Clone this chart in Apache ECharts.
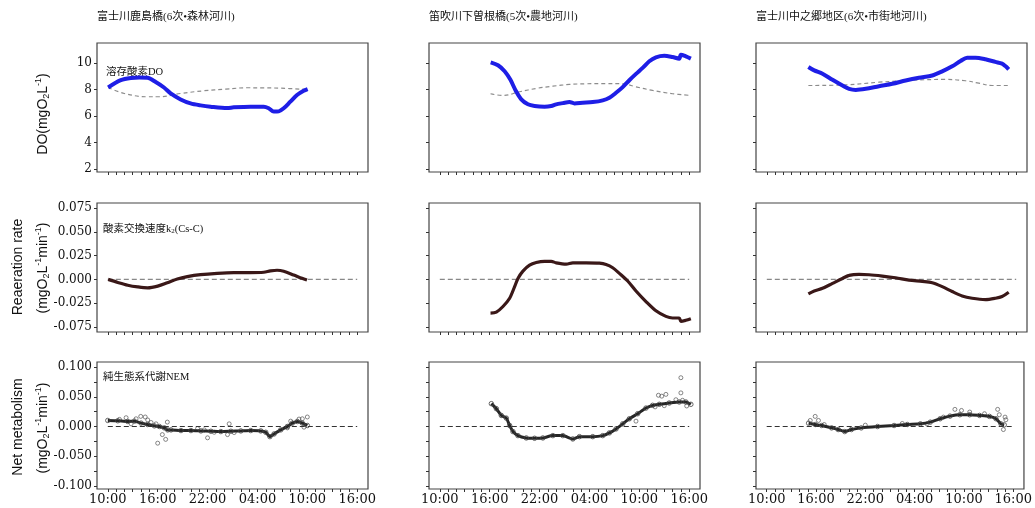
<!DOCTYPE html>
<html><head><meta charset="utf-8">
<script src="https://cdn.jsdelivr.net/npm/echarts@6/dist/echarts.min.js"></script>
<style>html,body{margin:0;padding:0;background:#fff}#c{width:1035px;height:508px}</style>
</head><body><div id="c"></div>
<script>
// x values are hours after 10:00 of the first day
const hourTicks = [0,1,2,3,4,5,6,7,8,9,10,11,12,13,14,15,16,17,18,19,20,21,22,23,24,25,26,27,28,29,30];
const hourLabelValues = [0,6,12,18,24,30];
const hourLabels = ['10:00','16:00','22:00','04:00','10:00','16:00'];

const doTicks = [2,4,6,8,10];
const doLabels = ['2','4','6','8','10'];
const k2Ticks = [-0.05,-0.025,0,0.025,0.05,0.075];
const k2Labels = ['-0.075','-0.025','0.000','0.025','0.050','0.075'];
const nemTicks = [-0.1,-0.075,-0.05,-0.025,0,0.025,0.05,0.075,0.1];
const nemLabelValues = [-0.1,-0.05,0,0.05,0.1];
const nemLabels = ['-0.100','-0.050','0.000','0.050','0.100'];

const sites = ['富士川鹿島橋(6次•森林河川)','笛吹川下曽根橋(5次•農地河川)','富士川中之郷地区(6次•市街地河川)'];

// Row 1: dissolved oxygen (observed) and saturation (dashed)
const doObs1 = [[0.04,8.15],[1.56,8.7],[2.76,8.87],[3.8,8.9],[4.76,8.88],[5.76,8.57],[6.76,8.15],[7.56,7.7],[8.76,7.25],[9.96,6.95],[11.16,6.8],[12.36,6.7],[14.36,6.6],[15.16,6.65],[17.16,6.7],[18.76,6.7],[19.36,6.58],[19.96,6.33],[20.56,6.35],[21.16,6.58],[21.96,7.08],[22.76,7.58],[23.56,7.9],[24.04,8.03]];
const doSat1 = [[0.04,8.15],[2.0,7.7],[4.8,7.45],[6.1,7.45],[8.8,7.7],[11.5,7.9],[14.2,8.03],[16.8,8.13],[18.8,8.12],[20.8,8.1],[24.04,8.0]];
const doObs2 = [[6.12,10.05],[7.0,9.83],[7.8,9.38],[8.48,8.75],[9.12,7.93],[9.8,7.25],[10.6,6.88],[11.4,6.75],[12.6,6.7],[13.4,6.75],[14.0,6.88],[14.8,6.97],[15.6,7.05],[16.2,6.95],[17.2,7.0],[18.4,7.05],[19.6,7.18],[20.4,7.38],[21.2,7.75],[22.0,8.18],[22.8,8.7],[23.6,9.18],[24.4,9.63],[25.2,10.13],[26.0,10.43],[27.0,10.55],[28.0,10.45],[28.8,10.33],[29.0,10.63],[29.6,10.5],[30.2,10.33]];
const doSat2 = [[6.1,7.68],[7.6,7.55],[9.6,7.83],[11.6,8.08],[13.6,8.25],[15.6,8.38],[17.6,8.43],[20.0,8.45],[22.0,8.43],[23.6,8.2],[25.6,7.93],[28.0,7.68],[30.2,7.55]];
const doObs3 = [[5.0,9.7],[5.7,9.44],[6.7,9.19],[7.9,8.73],[9.1,8.3],[9.9,8.05],[10.7,7.97],[11.9,8.05],[13.5,8.25],[15.1,8.43],[16.7,8.68],[18.3,8.89],[19.9,9.06],[21.1,9.37],[22.3,9.75],[23.3,10.15],[24.1,10.4],[25.1,10.4],[26.3,10.28],[27.5,10.08],[28.3,9.95],[28.7,9.77],[29.1,9.52]];
const doSat3 = [[5.0,8.3],[9.5,8.35],[13.5,8.55],[17.5,8.7],[21.5,8.76],[23.9,8.66],[25.5,8.48],[27.1,8.3],[29.1,8.3]];

// Row 2: reaeration rate k2(Cs-C)
const k2Rate1 = [[0.04,0],[1.2,-0.0032],[2.4,-0.0061],[3.6,-0.0079],[4.8,-0.0089],[6.0,-0.0071],[7.16,-0.0036],[8.36,0.0004],[9.56,0.0029],[11.16,0.005],[13.16,0.0064],[15.16,0.0071],[17.16,0.0071],[18.76,0.0075],[19.56,0.0089],[20.36,0.0096],[21.16,0.0086],[22.36,0.0046],[23.36,0.0011],[23.96,-0.0007]];
const k2Rate2 = [[6.1,-0.0354],[6.8,-0.0344],[7.6,-0.0285],[8.4,-0.0198],[9.0,-0.0076],[9.4,0.001],[10.0,0.0087],[10.8,0.0149],[11.6,0.0177],[12.6,0.019],[13.4,0.019],[14.0,0.0174],[15.2,0.016],[16.0,0.0174],[17.6,0.0174],[19.2,0.017],[20.0,0.0156],[20.8,0.0122],[21.6,0.0063],[22.6,-0.0017],[23.6,-0.0122],[24.8,-0.0233],[26.0,-0.033],[27.2,-0.0389],[28.0,-0.0406],[28.8,-0.0406],[29.0,-0.0441],[29.6,-0.043],[30.2,-0.0413]];
const k2Rate3 = [[5.0,-0.0153],[5.7,-0.0122],[6.7,-0.0094],[7.9,-0.0042],[9.1,0.001],[9.9,0.0042],[11.1,0.0052],[12.3,0.0049],[13.9,0.0035],[15.5,0.0017],[17.1,-0.0007],[18.7,-0.0021],[19.9,-0.0035],[21.1,-0.0076],[22.3,-0.0128],[23.5,-0.0174],[24.7,-0.0198],[26.3,-0.0212],[27.5,-0.0198],[28.3,-0.018],[29.1,-0.0135]];
const zeroLine = [[0,0],[30,0]];

// Row 3: net ecosystem metabolism (main band + scattered points)
const nem1 = [[0,0.0102],[1.2,0.0097],[2.4,0.0085],[3.2,0.009],[4.0,0.0057],[4.8,0.0034],[5.6,0.0011],[6.2,0],[6.8,-0.0023],[7.2,-0.0057],[7.6,-0.0057],[8.8,-0.0068],[10.0,-0.0068],[11.2,-0.0074],[12.4,-0.008],[13.6,-0.0085],[14.8,-0.008],[16.0,-0.0074],[17.2,-0.0068],[18.4,-0.0074],[19.0,-0.0097],[19.5,-0.017],[20.0,-0.0125],[20.8,-0.0057],[21.6,0],[22.2,0.0057],[22.8,0.0085],[23.4,0.0057],[24.0,0.0017]];
const nemOut1 = [[1.4,0.012],[2.2,0.0148],[2.8,0.0045],[3.4,0.013],[3.96,0.017],[4.5,0.016],[4.8,0.011],[5.2,0.0068],[5.8,0.0045],[6.0,-0.028],[6.56,-0.0136],[6.96,-0.0216],[7.16,0.0074],[10.8,-0.0034],[11.6,-0.0057],[12.0,-0.019],[12.8,-0.0097],[14.6,0.0045],[14.4,-0.0136],[15.2,-0.0102],[21.6,-0.0023],[22.0,0.009],[23.0,0.0125],[23.4,0.013],[23.6,-0.0011],[24.0,0.016]];
const nem2 = [[6.2,0.0384],[6.8,0.030],[7.4,0.0186],[8.0,0.0141],[8.4,0.0017],[8.8,-0.0085],[9.4,-0.0153],[10.4,-0.0192],[11.4,-0.0198],[12.4,-0.0192],[13.6,-0.0153],[14.8,-0.0153],[16.0,-0.0209],[16.8,-0.017],[18.4,-0.017],[19.6,-0.0153],[20.4,-0.0107],[21.2,-0.004],[22.0,0.0045],[22.8,0.013],[23.8,0.0215],[24.8,0.031],[25.6,0.0356],[26.4,0.0373],[27.6,0.0395],[28.8,0.0412],[29.6,0.0412],[30.2,0.0373]];
const nemOut2 = [[26.3,0.0525],[26.7,0.051],[27.2,0.054],[29.0,0.082],[29.0,0.0565],[23.6,0.009],[29.2,0.044],[29.7,0.0345],[28.4,0.045],[27.0,0.035],[25.9,0.033]];
const nem3 = [[5.1,0.0056],[5.9,0.0034],[6.7,0.0017],[7.9,-0.0023],[8.7,-0.0051],[9.5,-0.0085],[10.3,-0.0051],[11.5,-0.0023],[13.5,0],[15.5,0.0017],[17.1,0.0034],[18.7,0.0045],[19.9,0.0073],[21.1,0.013],[22.3,0.0175],[23.5,0.0198],[24.7,0.0198],[25.9,0.0186],[27.1,0.017],[27.9,0.013],[28.5,0.0045],[28.9,0.0028]];
const nemOut3 = [[5.9,0.017],[5.3,0.0102],[6.3,0.0102],[22.9,0.0288],[23.7,0.027],[28.1,0.0288],[28.3,0.0198],[28.8,-0.0051],[29.0,0.0158],[29.1,0.0113],[21.5,0.0158],[24.7,0.0243],[7.0,0.0034],[12.0,0.0023],[16.5,0.0051],[19.5,0.0045],[26.5,0.0215]];

const doObs = [doObs1, doObs2, doObs3];
const doSat = [doSat1, doSat2, doSat3];
const k2Rate = [k2Rate1, k2Rate2, k2Rate3];
const nem = [nem1, nem2, nem3];
const nemOut = [nemOut1, nemOut2, nemOut3];

const colLeft = [97, 429, 756];
const rowTop = [43, 203, 362];
const rowHeight = [129, 129, 127];
const gridW = 271;
const yRange = [[1.77, 11.51], [-0.0553, 0.0803], [-0.105, 0.1084]];
const yTickSets = [doTicks, k2Ticks, nemTicks];
const yLabelVals = [doTicks, k2Ticks, nemLabelValues];
const yLabelTxt = [doLabels, k2Labels, nemLabels];

function lookup(vals, txt, v) {
  for (let i = 0; i < vals.length; i++) if (Math.abs(vals[i] - v) < 1e-9) return txt[i];
  return '';
}

const serif = 'DejaVu Serif';
const mixed = "'Liberation Serif','Noto Sans CJK JP'";
const grids = [], xAxes = [], yAxes = [], series = [];
for (let r = 0; r < 3; r++) {
  for (let c = 0; c < 3; c++) {
    const i = r * 3 + c;
    grids.push({left: colLeft[c], top: rowTop[r], width: gridW, height: rowHeight[r],
      show: true, borderColor: '#444', borderWidth: 1.2, backgroundColor: '#fff'});
    xAxes.push({type: 'value', gridIndex: i, min: -1.3, max: 31.3, position: 'bottom',
      axisLine: {show: false, onZero: false}, splitLine: {show: false},
      axisTick: {show: true, customValues: hourTicks, length: 3, inside: false, lineStyle: {color: '#333'}},
      axisLabel: {show: r === 2, customValues: hourLabelValues, margin: 4,
        formatter: v => lookup(hourLabelValues, hourLabels, v),
        fontFamily: serif, fontSize: 13, color: '#111'}});
    yAxes.push({type: 'value', gridIndex: i, min: yRange[r][0], max: yRange[r][1], position: 'left',
      axisLine: {show: false, onZero: false}, splitLine: {show: false},
      axisTick: {show: true, customValues: yTickSets[r], length: 3, inside: false, lineStyle: {color: '#333'}},
      axisLabel: {show: c === 0, customValues: yLabelVals[r], margin: 5,
        formatter: v => lookup(yLabelVals[r], yLabelTxt[r], v),
        fontFamily: serif, fontSize: 12, color: '#111'}});
    if (r === 0) {
      series.push({type: 'line', xAxisIndex: i, yAxisIndex: i, data: doSat[c], smooth: 0.4, showSymbol: false,
        lineStyle: {color: '#8c8c8c', width: 1.2, type: [4, 3]}, silent: true});
      series.push({type: 'line', xAxisIndex: i, yAxisIndex: i, data: doObs[c], smooth: 0.3, showSymbol: false,
        lineStyle: {color: '#1e1ee6', width: 4}, silent: true});
    } else if (r === 1) {
      series.push({type: 'line', xAxisIndex: i, yAxisIndex: i, data: zeroLine, showSymbol: false,
        lineStyle: {color: '#888', width: 1.2, type: [5, 3]}, silent: true});
      series.push({type: 'line', xAxisIndex: i, yAxisIndex: i, data: k2Rate[c], smooth: 0.3, showSymbol: false,
        lineStyle: {color: '#3a1818', width: 3.2}, silent: true});
    } else {
      series.push({type: 'line', xAxisIndex: i, yAxisIndex: i, data: zeroLine, showSymbol: false,
        lineStyle: {color: '#333', width: 1.2, type: [5, 3]}, silent: true});
      series.push({type: 'line', xAxisIndex: i, yAxisIndex: i, data: nem[c], smooth: 0.2,
        symbol: 'circle', symbolSize: 4.5, showSymbol: true,
        itemStyle: {color: 'rgba(0,0,0,0)', borderColor: '#444', borderWidth: 0.8},
        lineStyle: {color: '#262626', width: 3}, silent: true});
      series.push({type: 'scatter', xAxisIndex: i, yAxisIndex: i, data: nemOut[c],
        symbol: 'circle', symbolSize: 4,
        itemStyle: {color: 'rgba(0,0,0,0)', borderColor: '#444', borderWidth: 0.8}, silent: true});
    }
  }
}

const axisTitleStyle = {fontFamily: "'Liberation Sans', Arial, sans-serif", fontSize: 14, fill: '#111', align: 'center', verticalAlign: 'middle',
  rich: {
    sub: {fontFamily: "'Liberation Sans', Arial, sans-serif", fontSize: 9, fill: '#111', padding: [8, 0, 0, 0]},
    sup: {fontFamily: "'Liberation Sans', Arial, sans-serif", fontSize: 9, fill: '#111', padding: [0, 0, 8, 0]}
  }};
const unitText = '(mgO{sub|2}L{sup|-1}min{sup|-1})';
const graphics = [];
function vtext(x, y, text) {
  graphics.push({type: 'text', x: x, y: y, rotation: Math.PI / 2, style: Object.assign({}, axisTitleStyle, {text: text})});
}
vtext(43, 114, 'DO(mgO{sub|2}L{sup|-1})');
vtext(18, 267, 'Reaeration rate');
vtext(43, 268, unitText);
vtext(18, 427, 'Net metabolism');
vtext(43, 428, unitText);

for (let c = 0; c < 3; c++) {
  graphics.push({type: 'text', x: colLeft[c], y: 17, style: {text: sites[c], fontFamily: mixed, fontSize: 11, fill: '#111', align: 'left', verticalAlign: 'middle'}});
}
const annStyle = {fontFamily: mixed, fontSize: 10.5, fill: '#111', align: 'left', verticalAlign: 'middle'};
graphics.push({type: 'text', x: 106, y: 72, style: Object.assign({}, annStyle, {text: '溶存酸素DO'})});
graphics.push({type: 'text', x: 103, y: 229, style: Object.assign({}, annStyle, {text: '酸素交換速度k{s|2}(Cs-C)',
  rich: {s: {fontFamily: mixed, fontSize: 7, fill: '#111', padding: [5, 0, 0, 0]}}})});
graphics.push({type: 'text', x: 103, y: 377, style: Object.assign({}, annStyle, {text: '純生態系代謝NEM'})});

const chart = echarts.init(document.getElementById('c'), null, {renderer: 'canvas'});
chart.setOption({
  animation: false,
  backgroundColor: '#fff',
  grid: grids, xAxis: xAxes, yAxis: yAxes, series: series,
  graphic: graphics
});
</script></body></html>
